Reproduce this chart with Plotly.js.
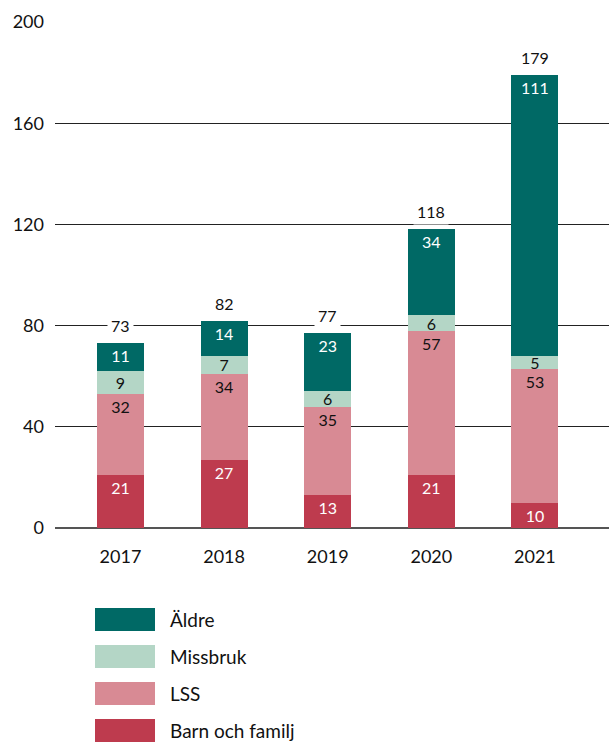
<!DOCTYPE html>
<html>
<head>
<meta charset="utf-8">
<script src="https://cdn.plot.ly/plotly-3.0.1.min.js"></script>
<style>
  html, body { margin: 0; padding: 0; background: #fff; }
  #chart { width: 609px; height: 742px; }
</style>
</head>
<body>
<div id="chart"></div>
<script>
// data
const years = ['2017', '2018', '2019', '2020', '2021'];
const barnOchFamilj = [21, 27, 13, 21, 10];
const lss = [32, 34, 35, 57, 53];
const missbruk = [9, 7, 6, 6, 5];
const aldre = [11, 14, 23, 34, 111];
const yTicks = [0, 40, 80, 120, 160, 200];

const seriesNames = ['Barn och familj', 'LSS', 'Missbruk', 'Äldre'];
const seriesValues = [barnOchFamilj, lss, missbruk, aldre];
const seriesColors = ['#be3b4e', '#d88a94', '#b4d6c6', '#006965'];
const labelColors = ['#ffffff', '#111111', '#111111', '#ffffff'];
// thin Missbruk segments have their label centred
const labelAnchors = ['end', 'end', 'middle', 'end'];

const totals = years.map((_, i) => seriesValues.reduce((s, v) => s + v[i], 0));

const font = 'Lato, Noto Sans, sans-serif';

const data = seriesNames.map((name, k) => ({
    type: 'bar',
    name: name,
    x: years,
    y: seriesValues[k],
    marker: { color: seriesColors[k], line: { width: 0 } },
    texttemplate: '%{y}',
    textposition: 'inside',
    insidetextanchor: labelAnchors[k],
    textangle: 0,
    constraintext: 'none',
    textfont: { family: font, size: 16, color: labelColors[k] },
    hoverinfo: 'skip',
}));

// plot area in pixels, used to place the legend below it
const plotLeft = 55, plotWidth = 554, plotTop = 22, plotHeight = 506;
const toPx = (px) => (px - plotLeft) / plotWidth;
const toPy = (py) => (plotTop + plotHeight - py) / plotHeight;

const shapes = [];
const annotations = [];

// totals above the bars, white box cuts the grid line
years.forEach((yr, i) => {
    annotations.push({
        x: i, y: totals[i], xref: 'x', yref: 'y',
        text: String(totals[i]),
        showarrow: false,
        yanchor: 'bottom',
        yshift: 4,
        bgcolor: '#ffffff',
        borderpad: 3,
        font: { family: font, size: 16, color: '#111' },
    });
});

// legend, top to bottom: Äldre first
const legendOrder = [3, 2, 1, 0];
legendOrder.forEach((k, row) => {
    const top = 608 + row * 37;
    shapes.push({
        type: 'rect', xref: 'paper', yref: 'paper',
        x0: toPx(95), x1: toPx(155),
        y0: toPy(top), y1: toPy(top + 23),
        fillcolor: seriesColors[k], line: { width: 0 },
    });
    annotations.push({
        xref: 'paper', yref: 'paper',
        x: toPx(168), y: toPy(top + 11.5),
        xanchor: 'left', yanchor: 'middle',
        text: seriesNames[k],
        showarrow: false,
        font: { family: font, size: 19, color: '#111' },
    });
});

const layout = {
    width: 609,
    height: 742,
    margin: { l: plotLeft, r: 0, t: plotTop, b: 742 - plotTop - plotHeight },
    paper_bgcolor: '#ffffff',
    plot_bgcolor: '#ffffff',
    barmode: 'stack',
    bargap: 0.545,
    showlegend: false,
    font: { family: font, size: 18, color: '#111' },
    xaxis: {
        type: 'category',
        range: [-0.632, 4.715],
        showgrid: false,
        zeroline: false,
        showline: false,
        ticks: '',
        ticklabelstandoff: 16,
        tickfont: { family: font, size: 18, color: '#111' },
        fixedrange: true,
    },
    yaxis: {
        range: [0, 200],
        tickvals: yTicks,
        ticktext: yTicks.map(String),
        showgrid: true,
        gridcolor: '#222222',
        gridwidth: 1,
        zeroline: true,
        zerolinecolor: '#555555',
        zerolinewidth: 1.5,
        showline: false,
        ticks: '',
        ticklabelstandoff: 10,
        tickfont: { family: font, size: 18, color: '#111' },
        fixedrange: true,
    },
    shapes: shapes,
    annotations: annotations,
};

Plotly.newPlot('chart', data, layout, { displayModeBar: false, staticPlot: true });
</script>
</body>
</html>
